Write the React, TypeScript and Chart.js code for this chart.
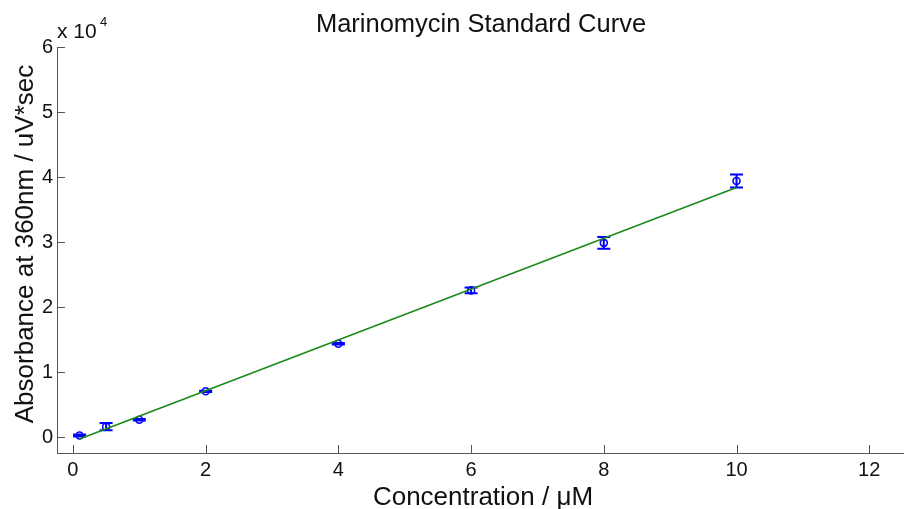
import React, { useEffect, useRef } from "react";
import { Chart, registerables } from "chart.js";

Chart.register(...registerables);

const concentrations = [0.1, 0.5, 1, 2, 4, 6, 8, 10];
const absorbance = [300, 1650, 2720, 7080, 14400, 22600, 29900, 39400];
const errors = [150, 550, 120, 100, 120, 450, 900, 1000];
const fitX = [0.1, 10];
const fitY = [-250, 38400];
const xTicks = [0, 2, 4, 6, 8, 10, 12];
const yTicks = [0, 10000, 20000, 30000, 40000, 50000, 60000];

const TITLE = "Marinomycin Standard Curve";
const X_TITLE = "Concentration / \u03bcM";
const Y_TITLE = "Absorbance at 360nm / uV*sec";

const FONT = "'Liberation Sans', Arial, sans-serif";
const AXIS_COLOR = "#555555";
const TEXT_COLOR = "#111111";
const BLUE = "#0000ff";
const GREEN = "#1a8a1a";

const errorBarPlugin = {
  id: "errorBars",
  beforeDatasetsDraw(chart: any) {
    const { ctx, scales } = chart;
    const xs = scales.x;
    const ys = scales.y;
    ctx.save();
    ctx.strokeStyle = BLUE;
    ctx.lineWidth = 2;
    const cap = 6.5;
    concentrations.forEach((c, i) => {
      const px = xs.getPixelForValue(c);
      const top = ys.getPixelForValue(absorbance[i] + errors[i]);
      const bot = ys.getPixelForValue(absorbance[i] - errors[i]);
      ctx.beginPath();
      ctx.moveTo(px, top);
      ctx.lineTo(px, bot);
      ctx.moveTo(px - cap, top);
      ctx.lineTo(px + cap, top);
      ctx.moveTo(px - cap, bot);
      ctx.lineTo(px + cap, bot);
      ctx.stroke();
    });
    ctx.restore();
  },
};

const decorPlugin = {
  id: "decor",
  afterDraw(chart: any) {
    const { ctx, scales, chartArea } = chart;
    const xs = scales.x;
    const ys = scales.y;
    ctx.save();
    ctx.strokeStyle = AXIS_COLOR;
    ctx.lineWidth = 1;
    const tl = 8;
    ctx.beginPath();
    xTicks.forEach((v) => {
      const px = Math.round(xs.getPixelForValue(v)) + 0.5;
      ctx.moveTo(px, chartArea.bottom);
      ctx.lineTo(px, chartArea.bottom - tl);
    });
    yTicks.forEach((v) => {
      const py = Math.round(ys.getPixelForValue(v)) + 0.5;
      ctx.moveTo(chartArea.left, py);
      ctx.lineTo(chartArea.left + tl, py);
    });
    ctx.stroke();

    ctx.fillStyle = TEXT_COLOR;
    ctx.font = `25.5px ${FONT}`;
    ctx.textAlign = "center";
    ctx.textBaseline = "alphabetic";
    ctx.fillText(TITLE, 481, 32);
    ctx.font = `26px ${FONT}`;
    ctx.fillText(X_TITLE, 483, 505);
    ctx.save();
    ctx.translate(33, 244);
    ctx.rotate(-Math.PI / 2);
    ctx.fillText(Y_TITLE, 0, 0);
    ctx.restore();
    ctx.textAlign = "left";
    ctx.font = `21px ${FONT}`;
    ctx.fillText("x 10", 57, 38);
    ctx.font = `13px ${FONT}`;
    ctx.fillText("4", 100, 26);
    ctx.restore();
  },
};

export default function App() {
  const ref = useRef<HTMLCanvasElement | null>(null);
  useEffect(() => {
    if (!ref.current) return;
    const chart = new Chart(ref.current, {
      type: "scatter",
      data: {
        datasets: [
          {
            label: "fit",
            type: "line",
            data: fitX.map((x, i) => ({ x, y: fitY[i] })),
            borderColor: GREEN,
            borderWidth: 1.6,
            pointRadius: 0,
            fill: false,
            order: 0,
          },
          {
            label: "data",
            data: concentrations.map((x, i) => ({ x, y: absorbance[i] })),
            borderColor: BLUE,
            backgroundColor: "rgba(0,0,0,0)",
            pointStyle: "circle",
            pointRadius: 3.5,
            borderWidth: 1.6,
            showLine: false,
            order: 1,
          },
        ],
      },
      options: {
        animation: false,
        responsive: false,
        layout: { padding: { top: 47, right: 0, left: 0, bottom: 0 } },
        plugins: {
          legend: { display: false },
          tooltip: { enabled: false },
          title: { display: false },
        },
        scales: {
          x: {
            type: "linear",
            min: -0.24,
            max: 12.53,
            afterBuildTicks: (s: any) => {
              s.ticks = xTicks.map((v) => ({ value: v }));
            },
            afterFit: (s: any) => {
              s.height = 56;
            },
            grid: { display: false, drawTicks: false },
            border: { display: true, color: AXIS_COLOR, width: 1 },
            ticks: {
              padding: 5,
              color: TEXT_COLOR,
              font: { family: FONT, size: 20 },
              maxRotation: 0,
              autoSkip: false,
              callback: (v: any) => String(v),
            },
          },
          y: {
            type: "linear",
            min: -2400,
            max: 60000,
            afterBuildTicks: (s: any) => {
              s.ticks = yTicks.map((v) => ({ value: v }));
            },
            afterFit: (s: any) => {
              s.width = 57;
            },
            grid: { display: false, drawTicks: false },
            border: { display: true, color: AXIS_COLOR, width: 1 },
            ticks: {
              padding: 4,
              color: TEXT_COLOR,
              font: { family: FONT, size: 20 },
              autoSkip: false,
              callback: (v: any) => String(Number(v) / 10000),
            },
          },
        },
      },
      plugins: [errorBarPlugin, decorPlugin],
    });
    return () => chart.destroy();
  }, []);
  return (
    <div style={{ position: "fixed", left: 0, top: 0, width: 904, height: 509, overflow: "hidden", background: "#fff" }}>
      <canvas ref={ref} width={910} height={509} style={{ display: "block" }} />
    </div>
  );
}
